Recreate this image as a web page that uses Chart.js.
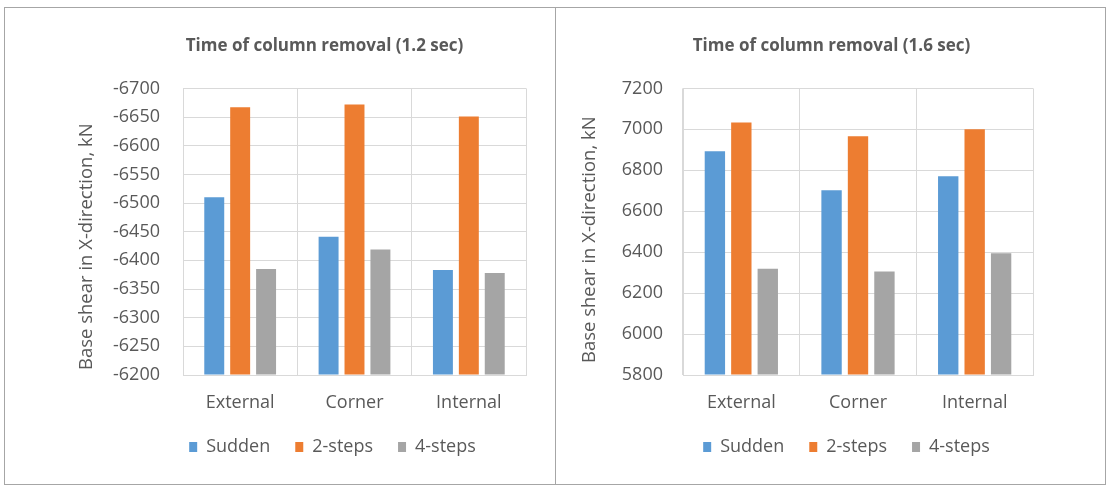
<!DOCTYPE html>
<html>
<head>
<meta charset="utf-8">
<script src="https://cdn.jsdelivr.net/npm/chart.js@4.4.1/dist/chart.umd.min.js"></script>
<style>
    body { margin: 0; background: #ffffff; width: 1107px; height: 487px; position: relative; overflow: hidden; }
    .panel { position: absolute; top: 7px; height: 476px; border: 1px solid #a6a6a6; background: #fff; }
    #panel-left { left: 4px; width: 551px; }
    #panel-right { left: 555px; width: 549px; }
    canvas { display: block; }
</style>
</head>
<body>
<div class="panel" id="panel-left"><canvas id="chart-left"></canvas></div>
<div class="panel" id="panel-right"><canvas id="chart-right"></canvas></div>
<script>
// Categories and series names shared by both charts
const categories = ['External', 'Corner', 'Internal'];
const seriesNames = ['Sudden', '2-steps', '4-steps'];
const seriesColors = ['#5b9bd5', '#ed7d31', '#a5a5a5'];

// Base shear values, column removal at 1.2 sec (kN)
const sudden12 = [-6510, -6441, -6383];
const twoSteps12 = [-6667, -6672, -6651];
const fourSteps12 = [-6385, -6419, -6378];

// Base shear values, column removal at 1.6 sec (kN)
const sudden16 = [6893, 6702, 6771];
const twoSteps16 = [7034, 6966, 7000];
const fourSteps16 = [6319, 6306, 6395];

// Axis ranges
const ticks12 = { min: -6700, max: -6200, step: 50 };
const ticks16 = { min: 5800, max: 7200, step: 200 };

const textColor = '#595959';
const gridColor = '#d9d9d9';
const fontFamily = "'Open Sans', 'Noto Sans', sans-serif";

// Excel centres the title, legend and axis title a bit off the Chart.js spots,
// so nudge them once the layout is done
const shiftBoxes = {
    id: 'shiftBoxes',
    afterLayout(chart, args, opts) {
        [[chart.titleBlock, opts.title], [chart.legend, opts.legend]].forEach(([box, dx]) => {
            if (!box || !dx) return;
            box.left += dx;
            box.right += dx;
        });
        const yScale = chart.scales.y;
        if (opts.axisTitle && !yScale._shifted) {
            const drawTitle = yScale.drawTitle.bind(yScale);
            yScale.drawTitle = () => {
                chart.ctx.save();
                chart.ctx.translate(0, opts.axisTitle);
                drawTitle();
                chart.ctx.restore();
            };
            yScale._shifted = true;
        }
    }
};

// Build one clustered bar chart
function makeChart(canvasId, titleText, seriesValues, range, reverse, layout) {
    const datasets = seriesValues.map((values, i) => ({
        label: seriesNames[i],
        data: values,
        backgroundColor: seriesColors[i],
        borderWidth: 0,
        base: reverse ? range.max : range.min,
        categoryPercentage: 0.68,
        barPercentage: 0.77
    }));

    return new Chart(document.getElementById(canvasId), {
        type: 'bar',
        data: { labels: categories, datasets: datasets },
        plugins: [shiftBoxes],
        options: {
            responsive: false,
            animation: false,
            devicePixelRatio: 1,
            layout: { padding: { left: layout.padLeft, right: layout.padRight, top: 0, bottom: 18 } },
            plugins: {
                shiftBoxes: { title: layout.titleShift, legend: layout.legendShift, axisTitle: layout.axisTitleShift },
                title: {
                    display: true,
                    text: titleText,
                    color: textColor,
                    font: { family: fontFamily, size: 17, weight: 'bold' },
                    padding: { top: 28, bottom: 32 }
                },
                legend: {
                    position: 'bottom',
                    labels: {
                        color: textColor,
                        font: { family: fontFamily, size: 18 },
                        boxWidth: 8,
                        boxHeight: 10,
                        padding: 25
                    }
                },
                tooltip: { enabled: false }
            },
            scales: {
                x: {
                    grid: { color: gridColor, drawTicks: false, offset: true },
                    border: { color: gridColor },
                    ticks: { color: textColor, font: { family: fontFamily, size: 18 }, padding: 17 },
                    afterFit: scale => { scale.height = 38; }
                },
                y: {
                    min: range.min,
                    max: range.max,
                    reverse: reverse,
                    grid: { color: gridColor, drawTicks: false },
                    border: { color: gridColor },
                    ticks: {
                        stepSize: range.step,
                        color: textColor,
                        font: { family: fontFamily, size: 18 },
                        padding: layout.tickPad,
                        callback: v => String(v)
                    },
                    title: {
                        display: true,
                        text: 'Base shear in X-direction, kN',
                        color: textColor,
                        font: { family: fontFamily, size: 18.5 },
                        padding: { top: -1, bottom: 0 }
                    },
                    afterFit: scale => { scale.width = layout.axisWidth; }
                }
            }
        }
    });
}

const leftCanvas = document.getElementById('chart-left');
leftCanvas.width = 551; leftCanvas.height = 476;
const rightCanvas = document.getElementById('chart-right');
rightCanvas.width = 549; rightCanvas.height = 476;

makeChart('chart-left', 'Time of column removal (1.2 sec)',
    [sudden12, twoSteps12, fourSteps12], ticks12, true,
    { padLeft: 72, padRight: 30, axisWidth: 106, tickPad: 23, titleShift: 23, legendShift: 31, axisTitleShift: 15 });

makeChart('chart-right', 'Time of column removal (1.6 sec)',
    [sudden16, twoSteps16, fourSteps16], ticks16, false,
    { padLeft: 24, padRight: 72, axisWidth: 103, tickPad: 20, titleShift: 25, legendShift: 40, axisTitleShift: 8 });
</script>
</body>
</html>
